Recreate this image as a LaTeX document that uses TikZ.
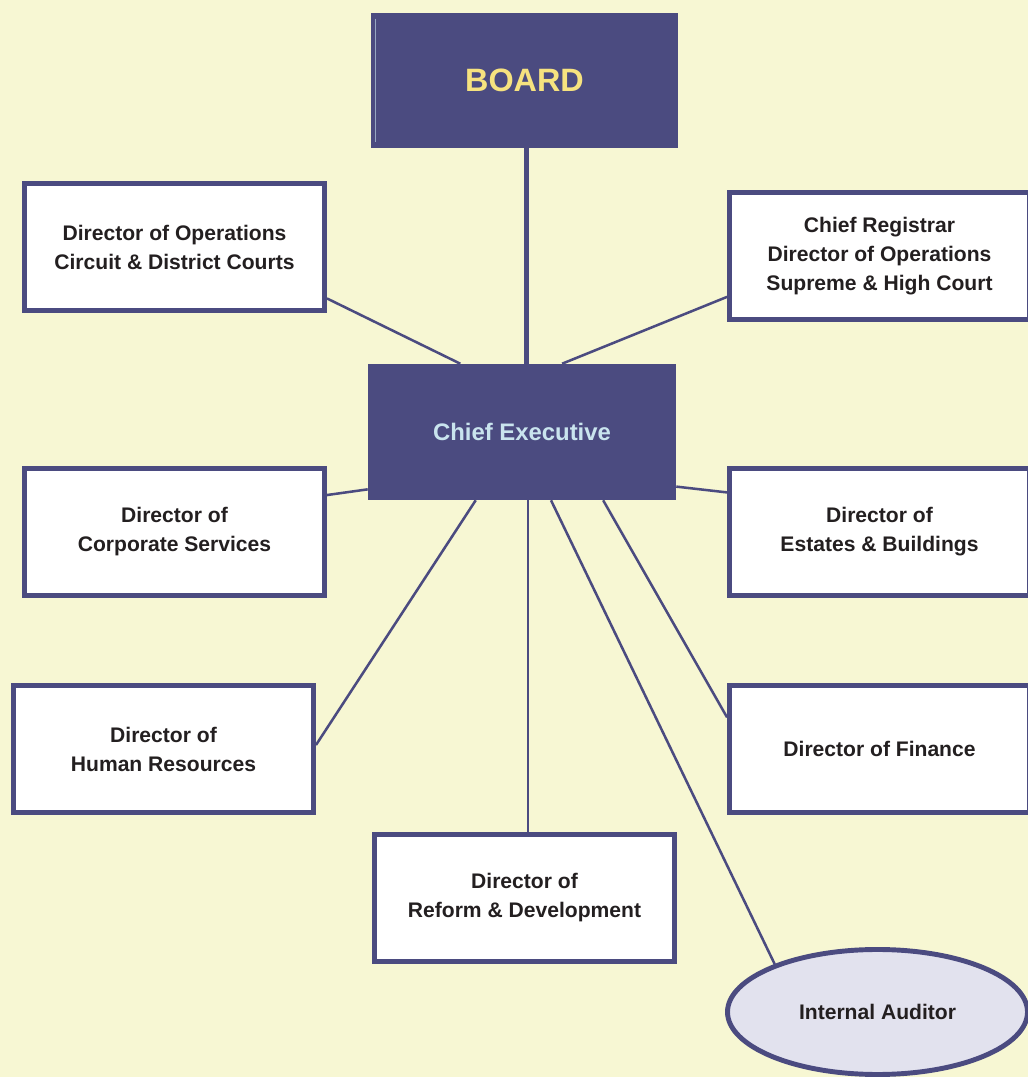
\documentclass[tikz,border=0pt]{standalone}
\usepackage{fontspec}
\setmainfont{Liberation Sans}
\usetikzlibrary{shapes.geometric, calc}
\usepackage{xcolor}
\definecolor{cNavy}{HTML}{4B4B80}
\definecolor{cPaper}{HTML}{F7F7D3}
\definecolor{cGold}{HTML}{F6E27F}
\definecolor{cIce}{HTML}{C9E4EE}
\definecolor{cMist}{HTML}{E2E2EE}
\definecolor{cInk}{HTML}{231F20}

\begin{document}
\begin{tikzpicture}[
  post/.style={draw=cNavy, fill=white, line width=3.5pt,
    minimum width=7.5cm, minimum height=3.175cm,
    font=\fontsize{15}{20.6}\selectfont\bfseries, text=cInk,
    align=center, inner sep=0pt},
  head/.style={fill=cNavy, minimum width=7.7cm, minimum height=3.4cm,
    align=center, inner sep=0pt},
  link/.style={draw=cNavy, line width=1.8pt},
  trunk/.style={draw=cNavy, line width=3.5pt}
]

  \useasboundingbox (0,0) rectangle (25.7,26.925);
  \clip (0,0) rectangle (25.7,26.925);
  \fill[cPaper] (0,0) rectangle (25.7,26.925);

  % top of the chart
  \node[head, minimum width=7.675cm, minimum height=3.375cm,
    font=\fontsize{23}{27}\selectfont\bfseries, text=cGold] (board) at (13.1125,24.9125) {BOARD};
  \draw[cIce!60!cNavy, line width=0.5pt]
    ($(board.north west)+(0.12,-0.15)$) -- ($(board.south west)+(0.12,0.15)$);

  \node[head, font=\fontsize{17}{20}\selectfont\bfseries, text=cIce] (ce) at (13.05,16.125) {Chief Executive};

  % directors
  \node[post] (ops) at (4.3625,20.75) {Director of Operations\\Circuit \& District Courts};
  \node[post] (reg) at (21.9875,20.525) {Chief Registrar\\Director of Operations\\Supreme \& High Court};
  \node[post] (corp) at (4.3625,13.625) {Director of\\Corporate Services};
  \node[post] (est) at (21.9875,13.625) {Director of\\Estates \& Buildings};
  \node[post] (hr) at (4.0875,8.2) {Director of\\Human Resources};
  \node[post] (fin) at (21.9875,8.2) {Director of Finance};
  \node[post] (ref) at (13.1125,4.475) {Director of\\Reform \& Development};
  \node[post, ellipse, fill=cMist, minimum width=7.5cm, minimum height=3.125cm] (aud) at (21.9375,1.625) {Internal Auditor};

  % connectors
  \draw[trunk] ($(ce.north west)!0.515!(ce.north east)$) coordinate (cetop) -- (cetop |- board.south);
  \draw[link] ($(ops.north east)!0.89!(ops.south east)$) -- ($(ce.north west)!0.3!(ce.north east)$);
  \draw[link] ($(reg.north west)!0.81!(reg.south west)$) -- ($(ce.north west)!0.63!(ce.north east)$);
  \draw[link] ($(corp.north east)!0.22!(corp.south east)$) -- ($(ce.north west)!0.92!(ce.south west)$);
  \draw[link] ($(est.north west)!0.2!(est.south west)$) -- ($(ce.north east)!0.9!(ce.south east)$);
  \draw[link] ($(hr.north east)!0.47!(hr.south east)$) -- ($(ce.south west)!0.35!(ce.south east)$);
  \draw[link] ($(fin.north west)!0.26!(fin.south west)$) -- ($(ce.south west)!0.763!(ce.south east)$);
  \draw[link] ($(ce.south west)!0.52!(ce.south east)$) coordinate (ceref) -- (ceref |- ref.north);
  \draw[link] (aud.155) -- ($(ce.south west)!0.594!(ce.south east)$);

\end{tikzpicture}
\end{document}
